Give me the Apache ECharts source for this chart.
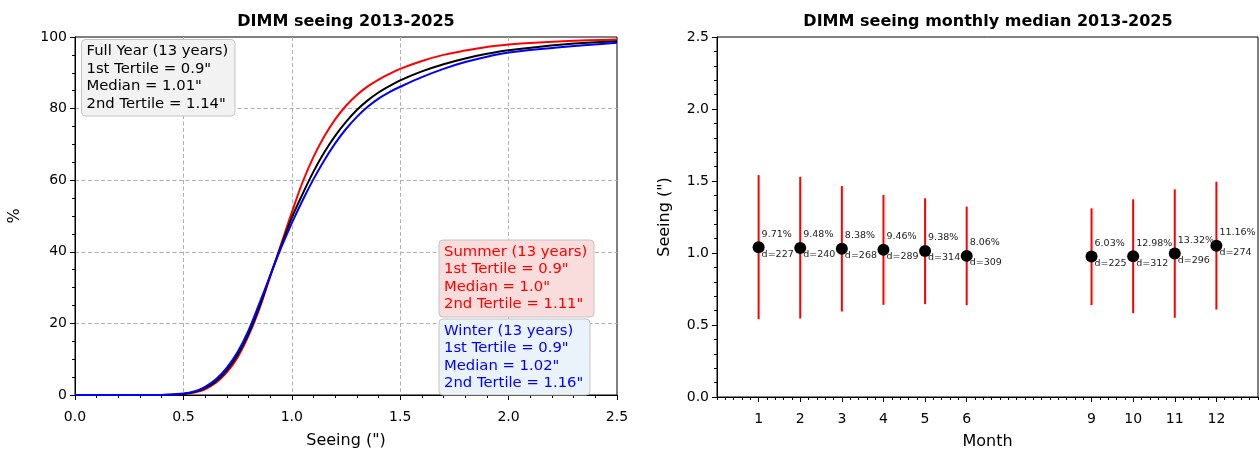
<!DOCTYPE html>
<html><head><meta charset="utf-8">
<script src="https://cdn.jsdelivr.net/npm/echarts@6/dist/echarts.min.js"></script>
<style>html,body{margin:0;padding:0;background:#fff}#c{width:1260px;height:449px}</style>
</head><body><div id="c"></div>
<script>
// ---- Left panel: cumulative distribution of seeing (%)
const seeingX   = [0, 0.4, 0.5, 0.55, 0.6, 0.65, 0.7, 0.75, 0.8, 0.85, 0.9, 0.95, 1.0, 1.05, 1.1, 1.15, 1.2, 1.25, 1.3, 1.35, 1.4, 1.45, 1.5, 1.6, 1.7, 1.8, 1.9, 2.0, 2.25, 2.5];
const cdfSummer = [0, 0, 0.3, 0.7, 1.6, 3.4, 6.3, 10.5, 16.5, 24, 33, 42, 51, 59.5, 66.5, 72.3, 77.0, 80.8, 83.8, 86.2, 88.1, 89.7, 91.1, 93.3, 95, 96.2, 97.2, 97.9, 98.8, 99.3];
const cdfFull   = [0, 0, 0.3, 0.8, 1.9, 3.8, 6.9, 11.2, 17, 24.5, 33.3, 41.5, 49.5, 56.2, 62.4, 67.8, 72.4, 76.3, 79.6, 82.3, 84.5, 86.3, 87.9, 90.4, 92.4, 94, 95.3, 96.3, 97.9, 98.8];
const cdfWinter = [0, 0, 0.4, 1.0, 2.3, 4.4, 7.6, 12, 18, 25.5, 33.3, 41, 48, 54.4, 60.3, 65.6, 70.3, 74.3, 77.7, 80.5, 82.8, 84.6, 86.1, 88.8, 91.1, 93, 94.5, 95.7, 97.2, 98.4];
const boxFull   = ['Full Year (13 years)', '1st Tertile = 0.9"', 'Median = 1.01"', '2nd Tertile = 1.14"'];
const boxSummer = ['Summer (13 years)', '1st Tertile = 0.9"', 'Median = 1.0"', '2nd Tertile = 1.11"'];
const boxWinter = ['Winter (13 years)', '1st Tertile = 0.9"', 'Median = 1.02"', '2nd Tertile = 1.16"'];

// ---- Right panel: monthly median with spread
const months    = [1, 2, 3, 4, 5, 6, 9, 10, 11, 12];
const medians   = [1.040, 1.035, 1.030, 1.023, 1.014, 0.980, 0.975, 0.977, 0.996, 1.051];
const lows      = [0.541, 0.545, 0.594, 0.640, 0.645, 0.638, 0.638, 0.582, 0.550, 0.607];
const highs     = [1.541, 1.529, 1.465, 1.403, 1.380, 1.322, 1.310, 1.373, 1.442, 1.495];
const pctLabels = ['9.71%', '9.48%', '8.38%', '9.46%', '9.38%', '8.06%', '6.03%', '12.98%', '13.32%', '11.16%'];
const dLabels   = ['d=227', 'd=240', 'd=268', 'd=289', 'd=314', 'd=309', 'd=225', 'd=312', 'd=296', 'd=274'];

const FONT = 'DejaVu Sans';
const pair = (xs, ys) => xs.map((x, i) => [x, ys[i]]);

function box(x, y, w, h, fill, color, lines) {
  return [
    {type: 'rect', shape: {x: x, y: y, width: w, height: h, r: 4}, style: {fill: fill, stroke: '#c4c4c4', lineWidth: 1}, z: 10},
    {type: 'text', x: x + 5, y: y + 3, z: 11,
     style: {text: lines.join('\n'), fill: color, font: '14.8px ' + FONT, lineHeight: 17.5, align: 'left', verticalAlign: 'top'}}
  ];
}

const axisCommon = {
  axisLine: {show: true, lineStyle: {color: '#000', width: 1}},
  axisTick: {show: true, length: 5, lineStyle: {color: '#000', width: 1}},
  axisLabel: {color: '#000', fontSize: 14, fontFamily: FONT},
  nameTextStyle: {color: '#000', fontSize: 16, fontFamily: FONT},
  minorTick: {show: true, length: 3, lineStyle: {color: '#000', width: 1}},
  nameLocation: 'middle'
};

const chart = echarts.init(document.getElementById('c'), null, {renderer: 'canvas'});
chart.setOption({
  animation: false,
  backgroundColor: '#fff',
  grid: [
    {left: 75, right: 643, top: 37, bottom: 54, show: true, borderColor: '#000', borderWidth: 1, backgroundColor: 'transparent', outerBoundsMode: 'none', containLabel: false},
    {left: 717, right: 2, top: 37, bottom: 52, show: true, borderColor: '#000', borderWidth: 1, backgroundColor: 'transparent', outerBoundsMode: 'none', containLabel: false}
  ],
  xAxis: [
    Object.assign({}, axisCommon, {
      gridIndex: 0, type: 'value', min: 0, max: 2.5, interval: 0.5, name: 'Seeing (")', nameGap: 38,
      axisLabel: Object.assign({}, axisCommon.axisLabel, {margin: 15, formatter: v => v.toFixed(1)}),
      minorTick: Object.assign({}, axisCommon.minorTick, {splitNumber: 5}),
      splitLine: {show: true, showMinLine: false, showMaxLine: false, lineStyle: {color: '#b0b0b0', width: 1, type: [4, 2.5]}}
    }),
    Object.assign({}, axisCommon, {
      gridIndex: 1, type: 'value', min: 0, max: 13, interval: 1, name: 'Month', nameGap: 37, position: 'bottom',
      axisTick: Object.assign({}, axisCommon.axisTick, {customValues: months}),
      axisLabel: Object.assign({}, axisCommon.axisLabel, {margin: 15, customValues: months}),
      minorTick: {show: false},
      splitLine: {show: false}
    }),
    {
      gridIndex: 1, type: 'value', min: 0, max: 13, interval: 0.2, position: 'bottom',
      axisLine: {show: false},
      axisTick: {show: true, length: 3, lineStyle: {color: '#000', width: 1}},
      axisLabel: {show: false}, splitLine: {show: false}
    }
  ],
  yAxis: [
    Object.assign({}, axisCommon, {
      gridIndex: 0, type: 'value', min: 0, max: 100, interval: 20, name: '%', nameGap: 52, nameRotate: 90,
      axisLabel: Object.assign({}, axisCommon.axisLabel, {margin: 8}),
      minorTick: Object.assign({}, axisCommon.minorTick, {splitNumber: 4}),
      splitLine: {show: true, showMinLine: false, showMaxLine: false, lineStyle: {color: '#b0b0b0', width: 1, type: [4, 2.5]}}
    }),
    Object.assign({}, axisCommon, {
      gridIndex: 1, type: 'value', min: 0, max: 2.5, interval: 0.5, name: 'Seeing (")', nameGap: 44, nameRotate: 90,
      axisLabel: Object.assign({}, axisCommon.axisLabel, {margin: 8, formatter: v => v.toFixed(1)}),
      minorTick: Object.assign({}, axisCommon.minorTick, {splitNumber: 5}),
      splitLine: {show: false}
    })
  ],
  series: [
    {type: 'line', xAxisIndex: 0, yAxisIndex: 0, data: pair(seeingX, cdfSummer), smooth: 0.4, showSymbol: false, lineStyle: {color: '#ff0000', width: 2}, z: 2},
    {type: 'line', xAxisIndex: 0, yAxisIndex: 0, data: pair(seeingX, cdfFull), smooth: 0.4, showSymbol: false, lineStyle: {color: '#000000', width: 2}, z: 3},
    {type: 'line', xAxisIndex: 0, yAxisIndex: 0, data: pair(seeingX, cdfWinter), smooth: 0.4, showSymbol: false, lineStyle: {color: '#0000ff', width: 2}, z: 4},
    {
      type: 'custom', xAxisIndex: 1, yAxisIndex: 1, z: 2,
      data: months.map((m, i) => [m, lows[i], highs[i]]),
      renderItem: function (params, api) {
        const a = api.coord([api.value(0), api.value(1)]);
        const b = api.coord([api.value(0), api.value(2)]);
        return {type: 'line', shape: {x1: a[0], y1: a[1], x2: b[0], y2: b[1]}, style: {stroke: '#ff0000', lineWidth: 2}};
      }
    },
    {
      type: 'scatter', xAxisIndex: 1, yAxisIndex: 1, z: 3,
      data: pair(months, medians), symbol: 'circle', symbolSize: 12, itemStyle: {color: '#000', opacity: 1}
    },
    {
      type: 'custom', xAxisIndex: 1, yAxisIndex: 1, z: 4,
      data: months.map((m, i) => [m, medians[i], i]),
      renderItem: function (params, api) {
        const p = api.coord([api.value(0), api.value(1)]);
        const i = api.value(2);
        return {type: 'group', children: [
          {type: 'text', x: p[0] + 3, y: p[1] - 13, style: {text: pctLabels[i], fill: '#222', font: '9.5px ' + FONT, align: 'left', verticalAlign: 'middle'}},
          {type: 'text', x: p[0] + 3, y: p[1] + 7, style: {text: dLabels[i], fill: '#222', font: '9.5px ' + FONT, align: 'left', verticalAlign: 'middle'}}
        ]};
      }
    }
  ],
  graphic: [
    {type: 'text', x: 346, y: 22, style: {text: 'DIMM seeing 2013-2025', font: 'bold 16px ' + FONT, fill: '#000', align: 'center', verticalAlign: 'middle'}},
    {type: 'text', x: 988, y: 22, style: {text: 'DIMM seeing monthly median 2013-2025', font: 'bold 16px ' + FONT, fill: '#000', align: 'center', verticalAlign: 'middle'}}
  ].concat(
    box(81.5, 39.5, 153.5, 76.5, '#f2f2f2', '#000000', boxFull),
    box(439, 240, 155, 77, '#f9dddd', '#ff0000', boxSummer),
    box(439, 319, 151, 76, '#eaf3fa', '#0000ff', boxWinter)
  )
});
</script>
</body></html>
